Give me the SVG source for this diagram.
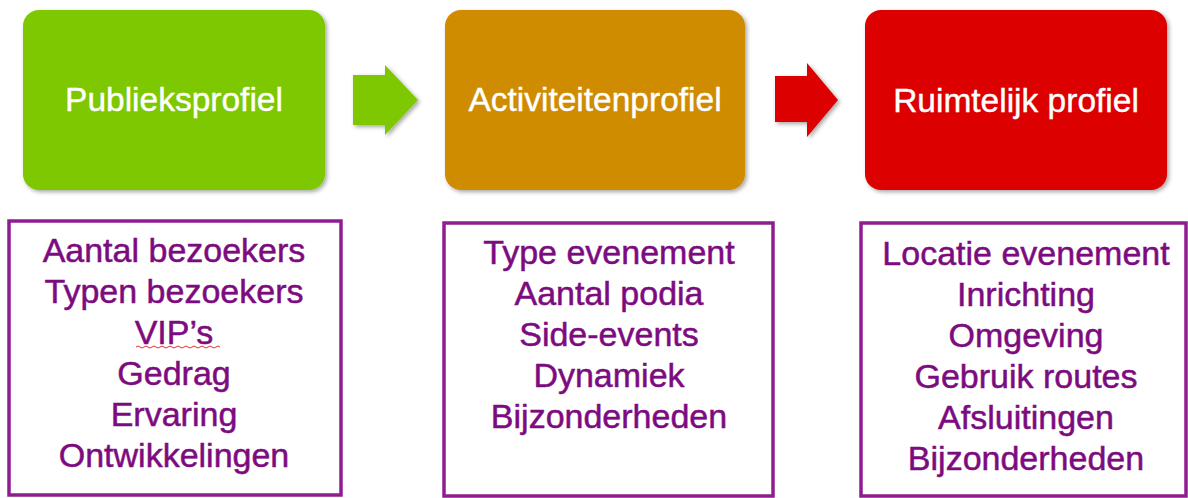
<svg xmlns="http://www.w3.org/2000/svg" width="1188" height="498" viewBox="0 0 1188 498">
  <style>
    .hdr { font-family: "Liberation Sans", Arial, sans-serif; font-size: 33.5px; fill: #ffffff; stroke: #ffffff; stroke-width: 0.4; text-anchor: middle; }
    .item { font-family: "Liberation Sans", Arial, sans-serif; font-size: 34px; fill: #7d0b80; stroke: #7d0b80; stroke-width: 0.5; text-anchor: middle; }
    .list { fill: #ffffff; stroke: #8f1c90; stroke-width: 3.5; }
  </style>
  <defs>
    <filter id="sh" x="-10%" y="-10%" width="125%" height="125%">
      <feDropShadow dx="2" dy="2" stdDeviation="2" flood-color="#000000" flood-opacity="0.35"/>
    </filter>
  </defs>

  <g id="connectors">
    <polygon points="353,75 385,75 385,65 418,100 385,135 385,125 353,125" fill="#7dc800" filter="url(#sh)"/>
    <polygon points="775,76 807,76 807,63 838,100 807,137 807,122 775,122" fill="#dc0000" filter="url(#sh)"/>
  </g>

  <g id="publieksprofiel">
    <rect x="23" y="10" width="302" height="180" rx="16" fill="#7dc800" filter="url(#sh)"/>
    <text class="hdr" x="174" y="111">Publieksprofiel</text>
  </g>
  <g id="activiteitenprofiel">
    <rect x="445" y="10" width="300" height="180" rx="16" fill="#d08c00" filter="url(#sh)"/>
    <text class="hdr" x="595" y="111">Activiteitenprofiel</text>
  </g>
  <g id="ruimtelijk-profiel">
    <rect x="865" y="10" width="302" height="180" rx="16" fill="#dc0000" filter="url(#sh)"/>
    <text class="hdr" x="1016" y="112">Ruimtelijk profiel</text>
  </g>

  <g id="publiek-details">
    <rect class="list" x="9" y="221" width="332" height="274"/>
    <text class="item" x="174" y="262">Aantal bezoekers</text>
    <text class="item" x="174" y="303">Typen bezoekers</text>
    <text class="item" x="174" y="344">VIP’s</text>
    <path d="M136,347 q2,-2 4,0 t4,0 t4,0 t4,0 t4,0 t4,0 t4,0 t4,0 t4,0 t4,0 t4,0 t4,0 t4,0 t4,0 t4,0 t4,0 t4,0 t4,0 t4,0 t4,0 t4,0" fill="none" stroke="#e03030" stroke-width="1"/>
    <text class="item" x="174" y="385">Gedrag</text>
    <text class="item" x="174" y="426">Ervaring</text>
    <text class="item" x="174" y="467">Ontwikkelingen</text>
  </g>
  <g id="activiteiten-details">
    <rect class="list" x="444" y="223" width="329" height="273"/>
    <text class="item" x="609" y="264">Type evenement</text>
    <text class="item" x="609" y="305">Aantal podia</text>
    <text class="item" x="609" y="346">Side-events</text>
    <text class="item" x="609" y="387">Dynamiek</text>
    <text class="item" x="609" y="428">Bijzonderheden</text>
  </g>
  <g id="ruimtelijk-details">
    <rect class="list" x="861" y="223" width="325" height="273"/>
    <text class="item" x="1026" y="265">Locatie evenement</text>
    <text class="item" x="1026" y="306">Inrichting</text>
    <text class="item" x="1026" y="347">Omgeving</text>
    <text class="item" x="1026" y="388">Gebruik routes</text>
    <text class="item" x="1026" y="429">Afsluitingen</text>
    <text class="item" x="1026" y="470">Bijzonderheden</text>
  </g>
</svg>
